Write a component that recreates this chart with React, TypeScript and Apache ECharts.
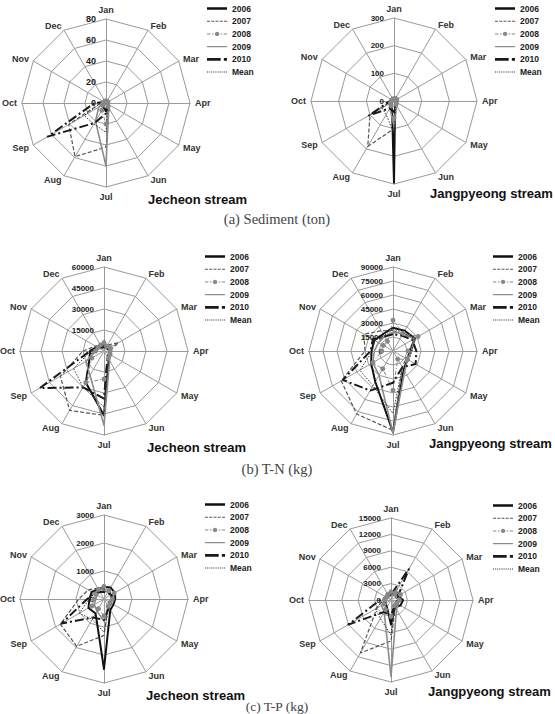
import React, { useEffect, useRef } from 'react';
import * as echarts from 'echarts';

const months = ['Jan', 'Feb', 'Mar', 'Apr', 'May', 'Jun', 'Jul', 'Aug', 'Sep', 'Oct', 'Nov', 'Dec'];
const seriesNames = ['2006', '2007', '2008', '2009', '2010', 'Mean'];

// (a) Sediment (ton) - Jecheon stream
const sedJecheonTicks = [0, 20, 40, 60, 80];
const sedJecheon2006 = [1, 2, 2, 1, 1, 2, 8, 5, 3, 4, 1, 1];
const sedJecheon2007 = [1, 1, 1, 1, 2, 6, 42, 59, 41, 5, 2, 1];
const sedJecheon2008 = [2, 2, 2, 1, 2, 4, 20, 8, 4, 3, 2, 2];
const sedJecheon2009 = [1, 1, 1, 2, 3, 5, 60, 20, 8, 3, 1, 1];
const sedJecheon2010 = [1, 1, 1, 1, 2, 3, 10, 22, 64, 11, 2, 1];
const sedJecheonMean = [1.2, 1.4, 1.4, 1.2, 2, 4, 28, 23, 24, 5, 1.6, 1.2];

// (a) Sediment (ton) - Jangpyeong stream
const sedJangTicks = [0, 100, 200, 300];
const sedJang2006 = [12, 15, 14, 8, 5, 8, 295, 15, 8, 6, 8, 10];
const sedJang2007 = [4, 5, 6, 5, 8, 12, 100, 190, 100, 10, 5, 4];
const sedJang2008 = [8, 10, 12, 8, 10, 15, 60, 20, 15, 10, 8, 8];
const sedJang2009 = [5, 6, 8, 6, 10, 20, 90, 30, 20, 8, 5, 5];
const sedJang2010 = [4, 5, 6, 5, 8, 10, 40, 30, 105, 15, 5, 4];
const sedJangMean = [7, 8, 9, 6, 8, 13, 117, 57, 50, 10, 6, 6];

// (b) T-N (kg) - Jecheon stream
const tnJecheonTicks = [0, 15000, 30000, 45000, 60000];
const tnJecheon2006 = [3500, 3000, 4000, 5000, 4500, 7000, 46000, 26000, 12000, 10000, 6000, 4000];
const tnJecheon2007 = [4000, 5000, 12000, 4000, 5000, 6000, 46000, 49000, 36000, 15000, 7000, 5000];
const tnJecheon2008 = [6000, 4000, 5000, 4500, 5000, 6000, 20000, 26000, 10000, 6000, 5000, 5000];
const tnJecheon2009 = [3000, 3000, 3500, 4000, 5000, 8000, 53000, 20000, 15000, 6000, 4000, 3000];
const tnJecheon2010 = [2500, 3000, 3000, 4000, 4000, 5000, 34000, 30000, 53000, 10000, 5000, 3000];
const tnJecheonMean = [3800, 3600, 5500, 4300, 4700, 6400, 40000, 30000, 25000, 9400, 5400, 4000];

// (b) T-N (kg) - Jangpyeong stream
const tnJangTicks = [0, 15000, 30000, 45000, 60000, 75000, 90000];
const tnJang2006 = [25000, 25000, 27000, 18000, 18000, 23000, 87000, 38000, 27000, 23000, 23000, 21000];
const tnJang2007 = [22000, 20000, 28000, 20000, 16000, 20000, 85000, 78000, 64000, 30000, 36000, 25000];
const tnJang2008 = [33000, 22000, 31000, 16000, 18000, 10000, 42000, 22000, 25000, 12000, 12000, 12000];
const tnJang2009 = [20000, 22000, 26000, 20000, 18000, 25000, 88000, 30000, 25000, 20000, 18000, 18000];
const tnJang2010 = [18000, 19000, 24000, 25000, 28000, 20000, 34000, 49000, 62000, 24000, 25000, 18000];
const tnJangMean = [24000, 22000, 27000, 20000, 20000, 20000, 67000, 43000, 41000, 22000, 23000, 19000];

// (c) T-P (kg) - Jecheon stream
const tpJecheonTicks = [0, 1000, 2000, 3000];
const tpJecheon2006 = [440, 470, 450, 400, 390, 450, 2500, 600, 640, 520, 510, 400];
const tpJecheon2007 = [350, 300, 350, 300, 250, 300, 1300, 1950, 1800, 900, 650, 450];
const tpJecheon2008 = [450, 350, 420, 300, 250, 300, 600, 400, 500, 350, 350, 400];
const tpJecheon2009 = [300, 280, 300, 250, 250, 350, 800, 500, 400, 300, 280, 300];
const tpJecheon2010 = [250, 250, 300, 280, 300, 350, 750, 760, 1750, 600, 400, 300];
const tpJecheonMean = [360, 330, 360, 310, 290, 350, 1190, 840, 1020, 530, 470, 370];

// (c) T-P (kg) - Jangpyeong stream
const tpJangTicks = [0, 3000, 6000, 9000, 12000, 15000];
const tpJang2006 = [1200, 1500, 1500, 2200, 2000, 1500, 4500, 1500, 1200, 1000, 800, 1000];
const tpJang2007 = [1000, 1200, 1000, 1200, 1000, 1500, 7500, 11200, 3000, 1500, 1000, 800];
const tpJang2008 = [1500, 1500, 2000, 1500, 1200, 1200, 3000, 2000, 1500, 1200, 1000, 1200];
const tpJang2009 = [800, 1000, 1200, 1500, 1500, 2000, 14000, 2500, 2000, 1000, 800, 800];
const tpJang2010 = [1000, 6500, 1500, 1200, 1000, 1200, 3000, 2500, 9000, 2000, 1000, 1000];
const tpJangMean = [1100, 2300, 1400, 1500, 1200, 1500, 6400, 3900, 3300, 1300, 900, 950];

const panelTitles = ['Jecheon stream', 'Jangpyeong stream', 'Jecheon stream', 'Jangpyeong stream', 'Jecheon stream', 'Jangpyeong stream'];
const captions = ['(a) Sediment (ton)', '(b) T-N (kg)', '(c) T-P (kg)'];

const panelTicks = [sedJecheonTicks, sedJangTicks, tnJecheonTicks, tnJangTicks, tpJecheonTicks, tpJangTicks];
const panelValues = [
  [sedJecheon2006, sedJecheon2007, sedJecheon2008, sedJecheon2009, sedJecheon2010, sedJecheonMean],
  [sedJang2006, sedJang2007, sedJang2008, sedJang2009, sedJang2010, sedJangMean],
  [tnJecheon2006, tnJecheon2007, tnJecheon2008, tnJecheon2009, tnJecheon2010, tnJecheonMean],
  [tnJang2006, tnJang2007, tnJang2008, tnJang2009, tnJang2010, tnJangMean],
  [tpJecheon2006, tpJecheon2007, tpJecheon2008, tpJecheon2009, tpJecheon2010, tpJecheonMean],
  [tpJang2006, tpJang2007, tpJang2008, tpJang2009, tpJang2010, tpJangMean],
];

// layout (pixels)
const layouts = [
  { cx: 106, cy: 103, r: 84, lx: 207, ly: 4, tx: 148, ty: 199, lab: 9 },
  { cx: 394, cy: 101, r: 83, lx: 495, ly: 4, tx: 430, ty: 193, lab: 8 },
  { cx: 104, cy: 351, r: 84, lx: 205, ly: 252, tx: 147, ty: 447, lab: 8 },
  { cx: 393, cy: 351, r: 84, lx: 493, ly: 252, tx: 429, ty: 443, lab: 8 },
  { cx: 104, cy: 599, r: 84, lx: 205, ly: 500, tx: 146, ty: 695, lab: 8 },
  { cx: 391, cy: 600, r: 82, lx: 493, ly: 501, tx: 428, ty: 691, lab: 8 },
];
const captionY = [219, 469, 706];
const captionSize = [14.5, 14.5, 13.5];

const SANS = '"Liberation Sans", Arial, Helvetica, sans-serif';

const styles: Record<string, any> = {
  '2006': { color: '#111111', width: 2, type: 'solid' },
  '2007': { color: '#555555', width: 1.2, type: [4, 2] },
  '2008': { color: '#888888', width: 1, type: [4, 2, 1, 2], symbol: 'circle', size: 5 },
  '2009': { color: '#8c8c8c', width: 1.6, type: 'solid' },
  '2010': { color: '#1a1a1a', width: 2, type: [9, 3, 2, 3] },
  'Mean': { color: '#333333', width: 1, type: [1.5, 1.5] },
};

const icons: Record<string, string> = {
  '2006': 'path://M0,0h24v3h-24z',
  '2007': 'path://M0,0h3.5v1.3h-3.5z M5,0h3.5v1.3h-3.5z M10,0h3.5v1.3h-3.5z M15,0h3.5v1.3h-3.5z M20,0h3.5v1.3h-3.5z',
  '2008': 'path://M0,2h4v1.2h-4z M6,2h2v1.2h-2z M9.5,2.6a2.6,2.6 0 1,0 5.2,0a2.6,2.6 0 1,0 -5.2,0z M16.2,2h2v1.2h-2z M20,2h4v1.2h-4z',
  '2009': 'path://M0,0h24v1.5h-24z',
  '2010': 'path://M0,0h13v2.6h-13z M16,0h3v2.6h-3z',
  'Mean': 'path://M0,0h1.3v1.3h-1.3z M2.6,0h1.3v1.3h-1.3z M5.2,0h1.3v1.3h-1.3z M7.8,0h1.3v1.3h-1.3z M10.4,0h1.3v1.3h-1.3z M13,0h1.3v1.3h-1.3z M15.6,0h1.3v1.3h-1.3z M18.2,0h1.3v1.3h-1.3z M20.8,0h1.3v1.3h-1.3z M23.4,0h1.3v1.3h-1.3z',
};

// ECharts radar runs counter-clockwise; reorder so months run clockwise from the top
const order = [0, 11, 10, 9, 8, 7, 6, 5, 4, 3, 2, 1];

function buildOption() {
  const radar: any[] = [];
  const series: any[] = [];
  const legend: any[] = [];
  const graphic: any[] = [];

  layouts.forEach((L, p) => {
    const ticks = panelTicks[p];
    const max = ticks[ticks.length - 1];
    const split = ticks.length - 1;
    radar.push({
      center: [L.cx, L.cy],
      radius: L.r,
      startAngle: 90,
      shape: 'polygon',
      splitNumber: split,
      nameGap: 5,
      axisName: { color: '#333', fontSize: 9, fontWeight: 'bold', fontFamily: SANS },
      splitLine: { lineStyle: { color: '#9a9a9a', width: 1 } },
      splitArea: { show: false },
      axisLine: { lineStyle: { color: '#9a9a9a', width: 1 } },
      axisTick: { show: false },
      axisLabel: { show: false },
      indicator: order.map((i) => {
        const ind: any = { name: months[i], min: 0, max };
        if (i === 0) {
          ind.axisLabel = {
            show: true,
            margin: 10,
            fontSize: L.lab,
            fontWeight: 'bold',
            fontFamily: SANS,
            color: '#222',
            formatter: (v: number) => String(v),
          };
        }
        return ind;
      }),
    });

    seriesNames.forEach((n, k) => {
      const s = styles[n];
      const vals = order.map((i) => panelValues[p][k][i]);
      series.push({
        type: 'radar',
        radarIndex: p,
        name: n,
        symbol: s.symbol || 'none',
        symbolSize: s.size || 0,
        silent: true,
        lineStyle: { color: s.color, width: s.width, type: s.type },
        itemStyle: { color: s.color, borderWidth: 0 },
        data: [{ name: n, value: vals }],
      });
    });

    legend.push({
      orient: 'vertical',
      left: L.lx,
      top: L.ly,
      padding: 0,
      itemWidth: 20,
      itemHeight: 10,
      itemGap: 3.7,
      selectedMode: false,
      symbolKeepAspect: true,
      textStyle: { fontSize: 8.5, fontWeight: 'bold', color: '#222', fontFamily: SANS },
      itemStyle: { borderWidth: 0 },
      data: seriesNames.map((n) => ({
        name: n,
        icon: icons[n],
        itemStyle: { color: styles[n].color, borderWidth: 0 },
      })),
    });

    graphic.push({
      type: 'text',
      x: L.tx,
      y: L.ty,
      style: {
        text: panelTitles[p],
        fontSize: 13,
        fontWeight: 'bold',
        fontFamily: SANS,
        fill: '#111',
        textAlign: 'left',
        textVerticalAlign: 'middle',
        align: 'left',
        verticalAlign: 'middle',
      },
    });
  });

  captions.forEach((c, i) => {
    graphic.push({
      type: 'text',
      x: 277,
      y: captionY[i],
      style: {
        text: c,
        fontSize: captionSize[i],
        fontFamily: '"Liberation Serif", "DejaVu Serif", serif',
        fill: '#444',
        textAlign: 'center',
        textVerticalAlign: 'middle',
        align: 'center',
        verticalAlign: 'middle',
      },
    });
  });

  return {
    animation: false,
    backgroundColor: '#ffffff',
    radar,
    legend,
    series,
    graphic,
  };
}

export default function App() {
  const ref = useRef<HTMLDivElement>(null);
  useEffect(() => {
    if (!ref.current) return;
    const chart = echarts.init(ref.current, undefined, { renderer: 'svg' });
    chart.setOption(buildOption());
    return () => chart.dispose();
  }, []);
  return (
    <div
      ref={ref}
      style={{ position: 'absolute', left: 0, top: 0, width: 555, height: 714, background: '#fff' }}
    />
  );
}
